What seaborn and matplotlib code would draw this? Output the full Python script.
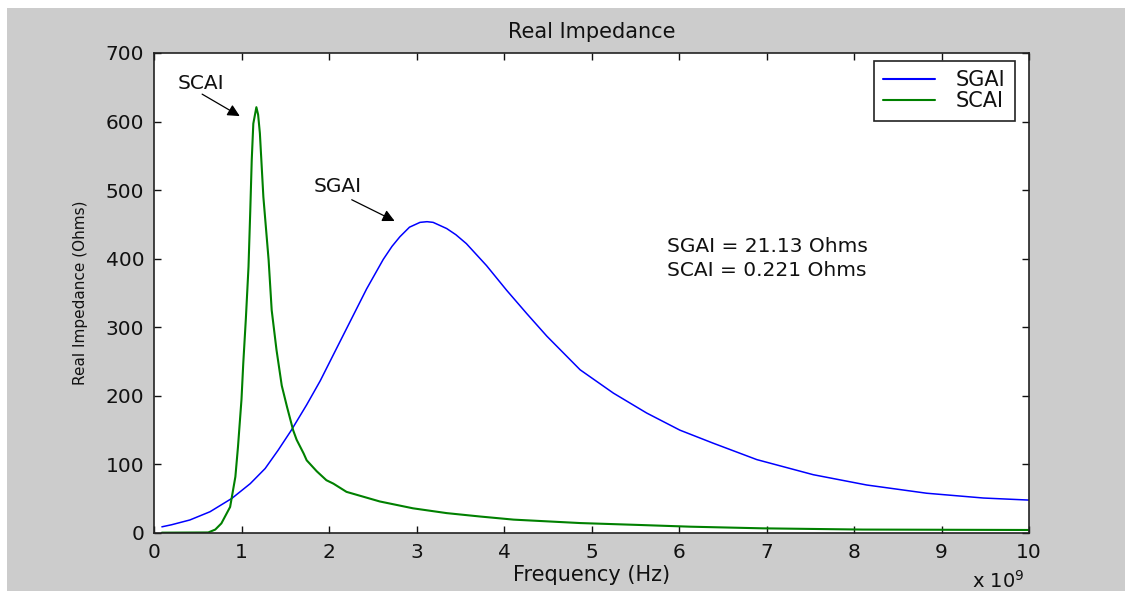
import matplotlib
matplotlib.use("Agg")
import matplotlib.pyplot as plt
from matplotlib.patches import Rectangle
from matplotlib.lines import Line2D
import pandas as pd
import seaborn as sns

# Frequency axis in units of 1e9 Hz
sgai_freq = [0.09, 0.2, 0.41, 0.64, 0.89, 1.10, 1.27, 1.42, 1.57, 1.745, 1.90,
             2.05, 2.24, 2.43, 2.62, 2.72, 2.81, 2.92, 3.04, 3.12, 3.19, 3.345,
             3.45, 3.57, 3.80, 4.03, 4.26, 4.49, 4.87, 5.25, 5.63, 6.01, 6.39,
             6.89, 7.535, 8.145, 8.83, 9.48, 10.0]
sgai_real = [9, 12, 19, 31, 50.5, 72, 94, 121, 150, 187, 222,
             260, 308, 356, 399, 418, 432, 446, 453, 454, 453, 444,
             435, 422, 390, 354, 320, 287, 238, 204, 175, 150, 131,
             107, 85, 70, 58, 51, 48]

scai_freq = [0.09, 0.62, 0.70, 0.77, 0.87, 0.93, 0.96, 1.00, 1.02, 1.05, 1.08,
             1.10, 1.117, 1.135, 1.17, 1.19, 1.21, 1.25, 1.31, 1.345, 1.40,
             1.46, 1.52, 1.59, 1.63, 1.71, 1.745, 1.86, 1.97, 2.05, 2.20, 2.58,
             2.96, 3.345, 3.73, 4.11, 4.49, 4.87, 5.55, 6.13, 6.96, 8.1, 10.0]
scai_real = [0.5, 0.8, 5, 14, 38, 82, 126, 195, 247, 313, 388,
             469, 544, 597, 621, 610, 583, 490, 398, 325, 267,
             215, 184, 150, 136, 116, 106, 90, 77, 72, 60, 46,
             36, 29, 24, 19.5, 17, 14.5, 11.7, 9.2, 6.8, 5, 4.4]

series_names = ["SGAI", "SCAI"]
series_colors = ["#0000ff", "#008000"]
x_ticks = [0, 1, 2, 3, 4, 5, 6, 7, 8, 9, 10]
y_ticks = [0, 100, 200, 300, 400, 500, 600, 700]
result_lines = ["SGAI = 21.13 Ohms", "SCAI = 0.221 Ohms"]

df = pd.concat([
    pd.DataFrame({"freq": sgai_freq, "real": sgai_real, "series": "SGAI"}),
    pd.DataFrame({"freq": scai_freq, "real": scai_real, "series": "SCAI"}),
], ignore_index=True)

sns.set_theme(style="white")
plt.rcParams["font.family"] = ["DejaVu Sans"]
plt.rcParams["text.color"] = "#111111"

fig = plt.figure(figsize=(11.25, 5.91), dpi=100, facecolor="white")
# grey window area
fig.patches.append(Rectangle((7 / 1125, 0), 1 - 7 / 1125, (591 - 8) / 591,
                             transform=fig.transFigure, facecolor="#cccccc",
                             edgecolor="none", zorder=-10))

ax = fig.add_axes([154 / 1125, (591 - 533) / 591, 875 / 1125, 480 / 591])
ax.set_facecolor("white")

palette = dict(zip(series_names, series_colors))
sns.lineplot(data=df, x="freq", y="real", hue="series", hue_order=series_names,
             palette=palette, sort=False, estimator=None, legend=False, ax=ax)
for line, lw in zip(ax.get_lines(), [1.1, 1.5]):
    line.set_linewidth(lw)

ax.set_xlim(0, 10)
ax.set_ylim(0, 700)
ax.set_xticks(x_ticks)
ax.set_yticks(y_ticks)
ax.set_xticklabels([str(t) for t in x_ticks])
ax.set_yticklabels([str(t) for t in y_ticks])
ax.tick_params(direction="in", length=5, width=1, colors="#111111",
               labelsize=14.5, top=True, right=True, bottom=True, left=True, pad=7)
for sp in ax.spines.values():
    sp.set_visible(True)
    sp.set_color("#222222")
    sp.set_linewidth(1.2)

ax.set_title("Real Impedance", fontsize=15, pad=11, color="#111111")
ax.set_xlabel("Frequency (Hz)", fontsize=15, color="#111111")
ax.xaxis.set_label_coords(0.5, -0.066)
ax.set_ylabel("Real Impedance (Ohms)", fontsize=11, color="#111111")
ax.yaxis.set_label_coords(-0.076, 0.5)
ax.text(0.995, -0.115, r"x 10$^{9}$", transform=ax.transAxes, ha="right",
        va="baseline", fontsize=14)

# labelled arrows
ax.text(0.54, 655, "SCAI", ha="center", va="center", fontsize=14.5)
ax.annotate("", xy=(0.98, 608), xytext=(0.55, 640),
            arrowprops=dict(arrowstyle="-|>", color="black", lw=0.9,
                            mutation_scale=18, shrinkA=0, shrinkB=0))
ax.text(2.10, 506, "SGAI", ha="center", va="center", fontsize=14.5)
ax.annotate("", xy=(2.75, 455), xytext=(2.26, 486),
            arrowprops=dict(arrowstyle="-|>", color="black", lw=0.9,
                            mutation_scale=18, shrinkA=0, shrinkB=0))

ax.text(5.86, 418, result_lines[0], ha="left", va="center", fontsize=14.5)
ax.text(5.86, 383, result_lines[1], ha="left", va="center", fontsize=14.5)

handles = [Line2D([0], [0], color=c, lw=1.5) for c in series_colors]
leg = ax.legend(handles, series_names, loc="upper right",
                bbox_to_anchor=((1015 - 154) / 875, (533 - 61) / 480),
                borderaxespad=0, fontsize=15, frameon=True, fancybox=False,
                framealpha=1, edgecolor="#222222", handlelength=2.5,
                handletextpad=1.0, labelspacing=0.05, borderpad=0.45)
leg.get_frame().set_linewidth(1.2)

fig.savefig("out.png", dpi=100, facecolor=fig.get_facecolor())
